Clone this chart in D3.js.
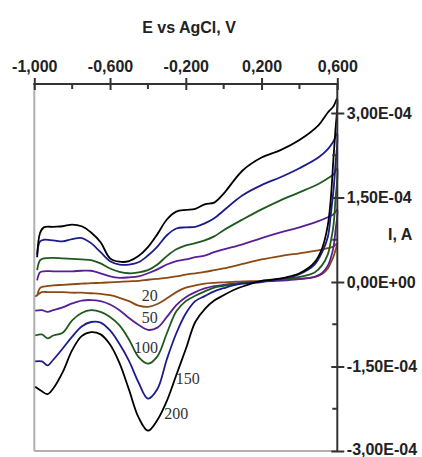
<!DOCTYPE html>
<html>
<head>
<meta charset="utf-8">
<script src="https://cdn.jsdelivr.net/npm/d3@7"></script>
<style>
  html, body { margin: 0; padding: 0; background: #fff; }
  svg { display: block; }
  .tick text { font-family: "Liberation Sans", Arial, sans-serif; font-weight: bold; font-size: 16px; fill: #222; }
</style>
</head>
<body>
<svg id="chart" width="422" height="457"></svg>
<script>
// Potential grids (V vs AgCl)
const forwardE = [-0.985,-0.97,-0.95,-0.9,-0.85,-0.8,-0.75,-0.7,-0.65,-0.6,-0.55,-0.5,-0.45,-0.4,-0.35,-0.3,-0.25,-0.2,-0.15,-0.1,-0.05,0,0.1,0.2,0.3,0.4,0.5,0.55,0.58,0.6];
const reverseE = [0.6,0.59,0.58,0.565,0.55,0.52,0.48,0.4,0.33,0.25,0.2,0.1,0.05,0,-0.05,-0.1,-0.15,-0.2,-0.25,-0.3,-0.35,-0.4,-0.45,-0.5,-0.55,-0.6,-0.65,-0.7,-0.75,-0.8,-0.85,-0.9,-0.93,-0.96,-0.995];

// Currents in units of 1E-04 A, one series per scan rate
const fwd20  = [-0.25,-0.11,-0.08,-0.06,-0.05,-0.04,-0.03,-0.02,-0.015,-0.005,0.004,0.012,0.02,0.04,0.057,0.075,0.10,0.13,0.155,0.18,0.21,0.24,0.32,0.40,0.46,0.51,0.56,0.60,0.63,0.69];
const rev20  = [0.69,0.56,0.45,0.34,0.24,0.14,0.085,0.06,0.05,0.03,0.02,0.012,0.004,-0.005,-0.015,-0.03,-0.06,-0.10,-0.18,-0.29,-0.39,-0.44,-0.42,-0.34,-0.28,-0.235,-0.21,-0.20,-0.19,-0.19,-0.18,-0.18,-0.18,-0.18,-0.26];
const fwd50  = [0.03,0.17,0.19,0.19,0.19,0.19,0.20,0.20,0.155,0.10,0.075,0.083,0.10,0.155,0.225,0.31,0.37,0.40,0.44,0.47,0.53,0.58,0.67,0.78,0.88,0.97,1.08,1.15,1.20,1.29];
const rev50  = [1.29,0.90,0.62,0.42,0.29,0.16,0.09,0.05,0.03,0.015,0.005,-0.015,-0.03,-0.05,-0.075,-0.115,-0.18,-0.27,-0.41,-0.62,-0.81,-0.85,-0.76,-0.64,-0.50,-0.40,-0.34,-0.32,-0.33,-0.38,-0.45,-0.50,-0.53,-0.50,-0.51];
const fwd100 = [0.21,0.385,0.42,0.43,0.42,0.41,0.40,0.39,0.33,0.24,0.18,0.155,0.17,0.21,0.31,0.46,0.58,0.65,0.69,0.74,0.81,0.92,1.11,1.29,1.45,1.59,1.74,1.84,1.91,2.02];
const rev100 = [2.02,1.45,1.01,0.71,0.49,0.30,0.17,0.09,0.06,0.03,0.01,-0.015,-0.04,-0.07,-0.10,-0.165,-0.245,-0.34,-0.52,-0.91,-1.32,-1.45,-1.33,-1.02,-0.77,-0.62,-0.53,-0.50,-0.55,-0.68,-0.90,-0.95,-1.00,-0.93,-0.95];
const fwd150 = [0.49,0.72,0.75,0.74,0.72,0.76,0.78,0.69,0.53,0.37,0.31,0.31,0.35,0.47,0.63,0.83,0.95,0.97,0.98,1.04,1.13,1.27,1.54,1.72,1.86,2.02,2.21,2.36,2.50,2.64];
const rev150 = [2.64,2.07,1.63,1.18,0.80,0.53,0.31,0.14,0.075,0.03,0.0,-0.03,-0.06,-0.11,-0.165,-0.25,-0.34,-0.56,-0.91,-1.37,-1.90,-2.07,-1.78,-1.40,-1.10,-0.86,-0.72,-0.71,-0.79,-0.97,-1.18,-1.38,-1.48,-1.41,-1.41];
const fwd200 = [0.44,0.865,0.97,0.98,0.99,1.02,0.99,0.88,0.705,0.42,0.36,0.37,0.46,0.62,0.85,1.11,1.25,1.28,1.30,1.38,1.41,1.57,1.98,2.21,2.34,2.52,2.78,3.01,3.12,3.26];
const rev200 = [3.26,2.69,2.21,1.45,1.01,0.60,0.35,0.155,0.083,0.04,0.02,-0.08,-0.147,-0.235,-0.33,-0.48,-0.71,-1.19,-1.65,-2.11,-2.45,-2.64,-2.40,-1.91,-1.44,-1.11,-0.93,-0.89,-0.96,-1.21,-1.60,-1.89,-1.99,-1.94,-1.86];

const scanLabels = ["20","50","100","150","200"];
const scanColors = ["#8b4a14","#5a1e96","#1e5a1e","#1c1c8c","#000000"];
const forwardSeries = [fwd20, fwd50, fwd100, fwd150, fwd200];
const reverseSeries = [rev20, rev50, rev100, rev150, rev200];
// label anchor: potential and current (1E-04 A)
const labelE = [-0.39, -0.39, -0.41, -0.19, -0.25];
const labelI = [-0.24, -0.62, -1.16, -1.72, -2.33];

const xTicks = [-1.0, -0.6, -0.2, 0.2, 0.6];
const xMinor = [-0.8, -0.4, 0.0, 0.4];
const yTicks = [3e-4, 1.5e-4, 0, -1.5e-4, -3e-4];
const yMinor = [2.25e-4, 0.75e-4, -0.75e-4, -2.25e-4];

const svg = d3.select("#chart");
const x = d3.scaleLinear().domain([-1.0, 0.6]).range([34.3, 337.3]);
const y = d3.scaleLinear().domain([-3e-4, 3.515e-4]).range([451, 84]);

const fmtX = v => d3.format(".3f")(v).replace("−", "-").replace(".", ",");
const fmtY = v => {
  let s = d3.format(".2e")(v).replace("−", "-").replace(".", ",");
  s = s.replace(/e([+-])(\d)$/, "E$10$2").replace(/e([+-])(\d\d)$/, "E$1$2");
  return s;
};

// left & bottom frame (light)
svg.append("line").attr("x1", x(-1)).attr("x2", x(-1)).attr("y1", y.range()[1]).attr("y2", y.range()[0])
  .attr("stroke", "#b0b0b0").attr("stroke-width", 2);
svg.append("line").attr("x1", x(-1)).attr("x2", x(0.6)).attr("y1", y(-3e-4)).attr("y2", y(-3e-4))
  .attr("stroke", "#b0b0b0").attr("stroke-width", 2);

// curves
const line = d3.line().x(d => x(d[0])).y(d => y(d[1] * 1e-4)).curve(d3.curveCatmullRom.alpha(0.5));
const g = svg.append("g");
scanLabels.forEach((lab, i) => {
  const pts = forwardE.map((e, k) => [e, forwardSeries[i][k]])
    .concat(reverseE.slice(1).map((e, k) => [e, reverseSeries[i][k + 1]]));
  g.append("path").datum(pts).attr("d", line)
    .attr("fill", "none").attr("stroke", scanColors[i]).attr("stroke-width", 1.8)
    .attr("stroke-linejoin", "round");
});

// top axis
const topAxis = d3.axisTop(x).tickValues(xTicks).tickFormat(fmtX).tickSize(6).tickPadding(6.5);
const gx = svg.append("g").attr("transform", `translate(0,${y.range()[1]})`).call(topAxis);
gx.select(".domain").remove();
gx.selectAll(".tick line").attr("stroke", "#333").attr("stroke-width", 2).attr("y2", 6).attr("y1", -6);
gx.append("line").attr("x1", x(-1) - 1).attr("x2", x(0.6) + 1).attr("stroke", "#333").attr("stroke-width", 2);
gx.selectAll(".minor").data(xMinor).join("line").attr("class", "minor")
  .attr("x1", d => x(d)).attr("x2", d => x(d)).attr("y1", 0).attr("y2", 5)
  .attr("stroke", "#333").attr("stroke-width", 2);

// right axis
const rightAxis = d3.axisRight(y).tickValues(yTicks).tickFormat(fmtY).tickSize(6).tickPadding(3.5);
const gy = svg.append("g").attr("transform", `translate(${x(0.6)},0)`).call(rightAxis);
gy.select(".domain").remove();
gy.selectAll(".tick line").attr("stroke", "#333").attr("stroke-width", 2).attr("x1", -6).attr("x2", 7);
gy.selectAll(".tick text").attr("text-anchor", "start")
  .attr("dy", d => d === -3e-4 ? "0.2em" : "0.32em");
gy.append("line").attr("y1", y.range()[1] - 1).attr("y2", y.range()[0] + 1).attr("stroke", "#333").attr("stroke-width", 2);
gy.selectAll(".minor").data(yMinor).join("line").attr("class", "minor")
  .attr("y1", d => y(d)).attr("y2", d => y(d)).attr("x1", -5).attr("x2", 0)
  .attr("stroke", "#333").attr("stroke-width", 2);

// titles
svg.append("text").attr("x", 189).attr("y", 33).attr("text-anchor", "middle")
  .style("font-family", "'Liberation Sans', Arial, sans-serif").style("font-weight", "bold").style("font-size", "16px")
  .attr("fill", "#222").text("E vs AgCl, V");
svg.append("text").attr("x", 388).attr("y", 240).attr("text-anchor", "start")
  .style("font-family", "'Liberation Sans', Arial, sans-serif").style("font-weight", "bold").style("font-size", "16px")
  .attr("fill", "#222").text("I, A");

// scan-rate labels
svg.selectAll(".scanlab").data(scanLabels).join("text").attr("class", "scanlab")
  .attr("x", (d, i) => x(labelE[i])).attr("y", (d, i) => y(labelI[i] * 1e-4))
  .attr("text-anchor", "middle").attr("dy", "0.35em")
  .style("font-family", "'Liberation Serif', 'Times New Roman', serif").style("font-size", "16px")
  .attr("fill", "#333").text(d => d);
</script>
</body>
</html>
